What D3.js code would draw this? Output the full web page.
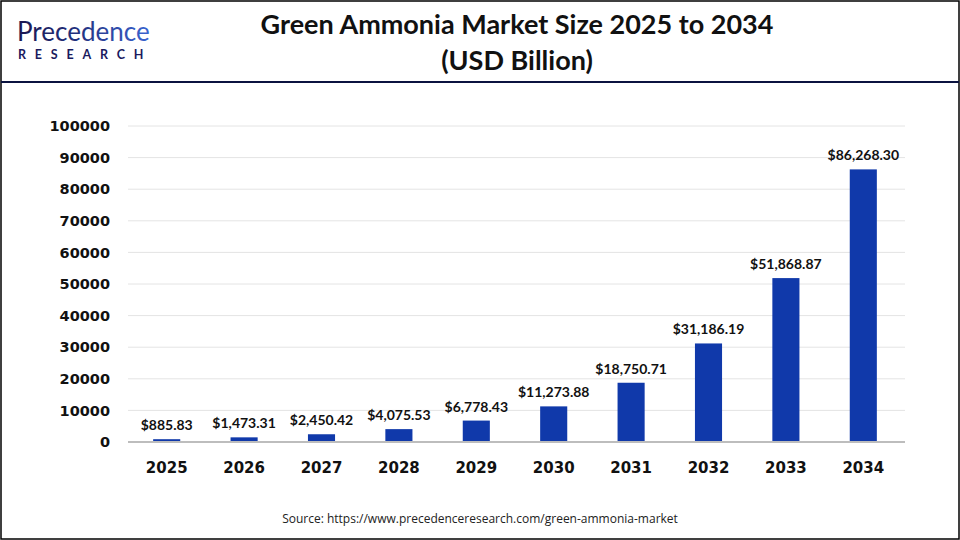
<!DOCTYPE html>
<html>
<head>
<meta charset="utf-8">
<script src="https://cdn.jsdelivr.net/npm/d3@7"></script>
<style>
  body { margin: 0; background: #fff; }
  svg { display: block; }
</style>
</head>
<body>
<svg id="chart" width="960" height="540"></svg>
<script>
// chart data
const years = ["2025", "2026", "2027", "2028", "2029", "2030", "2031", "2032", "2033", "2034"];
const values = [885.83, 1473.31, 2450.42, 4075.53, 6778.43, 11273.88, 18750.71, 31186.19, 51868.87, 86268.30];
const yTicks = [0, 10000, 20000, 30000, 40000, 50000, 60000, 70000, 80000, 90000, 100000];

const W = 960, H = 540;
const margin = { top: 126, right: 58, bottom: 98, left: 128 };
const svg = d3.select("#chart");

// frame
svg.append("rect")
  .attr("x", 1).attr("y", 1).attr("width", W - 2).attr("height", H - 2)
  .attr("fill", "none").attr("stroke", "#000").attr("stroke-width", 1.5);

svg.append("line")
  .attr("x1", 1).attr("x2", W - 1).attr("y1", 82).attr("y2", 82)
  .attr("stroke", "#0b1340").attr("stroke-width", 2);

// title
const title = svg.append("g")
  .attr("font-family", "Lato, 'Noto Sans', sans-serif")
  .attr("font-weight", "bold")
  .attr("fill", "#111")
  .attr("text-anchor", "middle");
title.append("text").attr("x", 517).attr("y", 34).attr("font-size", 27)
  .text("Green Ammonia Market Size 2025 to 2034");
title.append("text").attr("x", 517).attr("y", 70).attr("font-size", 27)
  .text("(USD Billion)");

// logo
const defs = svg.append("defs");
const grad = defs.append("linearGradient").attr("id", "logoGrad")
  .attr("x1", "0%").attr("x2", "100%");
grad.append("stop").attr("offset", "0%").attr("stop-color", "#1a1650");
grad.append("stop").attr("offset", "45%").attr("stop-color", "#22307e");
grad.append("stop").attr("offset", "100%").attr("stop-color", "#3a63d0");

const logo = svg.append("g").attr("font-family", "Lato, sans-serif");
logo.append("text").attr("x", 17).attr("y", 41)
  .attr("font-size", 26).attr("fill", "url(#logoGrad)")
  .attr("letter-spacing", 0)
  .text("Precedence");
logo.append("text").attr("x", 18).attr("y", 59)
  .attr("font-size", 12.5).attr("fill", "#1a1a5e").attr("font-weight", "bold")
  .attr("letter-spacing", 8.8)
  .text("RESEARCH");

// scales
const x = d3.scaleBand()
  .domain(years)
  .range([margin.left, W - margin.right])
  .paddingInner(0.65)
  .paddingOuter(0.325);

const y = d3.scaleLinear()
  .domain([0, 100000])
  .range([H - margin.bottom, margin.top]);

// gridlines
svg.append("g")
  .selectAll("line")
  .data(yTicks.slice(1))
  .join("line")
  .attr("x1", margin.left).attr("x2", W - margin.right + 3)
  .attr("y1", d => y(d)).attr("y2", d => y(d))
  .attr("stroke", "#e4e4e4").attr("stroke-width", 1);

// y axis
const yAxis = svg.append("g")
  .attr("transform", `translate(${margin.left - 18},0)`)
  .call(d3.axisLeft(y).tickValues(yTicks).tickFormat(d3.format("d")).tickSize(0).tickPadding(0));
yAxis.select(".domain").remove();
yAxis.selectAll("text")
  .attr("font-family", "'DejaVu Sans', Verdana, sans-serif")
  .attr("font-weight", "bold")
  .attr("font-size", 14.5)
  .attr("fill", "#111");

// bars
svg.append("g")
  .selectAll("rect")
  .data(values)
  .join("rect")
  .attr("x", (d, i) => x(years[i]))
  .attr("y", d => y(d))
  .attr("width", x.bandwidth())
  .attr("height", d => y(0) - y(d))
  .attr("fill", "#1039aa");

// baseline
svg.append("line")
  .attr("x1", margin.left).attr("x2", W - margin.right + 3)
  .attr("y1", y(0)).attr("y2", y(0))
  .attr("stroke", "#bdbdbd").attr("stroke-width", 2);

// x axis
const xAxis = svg.append("g")
  .attr("transform", `translate(0,${y(0)})`)
  .call(d3.axisBottom(x).tickSize(0).tickPadding(20));
xAxis.select(".domain").remove();
xAxis.selectAll("text")
  .attr("font-family", "'DejaVu Sans', Verdana, sans-serif")
  .attr("font-weight", "bold")
  .attr("font-size", 15)
  .attr("fill", "#111");

// value labels
const fmt = d3.format(",.2f");
svg.append("g")
  .selectAll("text")
  .data(values)
  .join("text")
  .attr("x", (d, i) => x(years[i]) + x.bandwidth() / 2)
  .attr("y", d => y(d) - 9)
  .attr("text-anchor", "middle")
  .attr("font-family", "Lato, sans-serif")
  .attr("font-weight", "bold")
  .attr("font-size", 14)
  .attr("fill", "#111")
  .text(d => "$" + fmt(d));

// source
svg.append("text")
  .attr("x", 480).attr("y", 523)
  .attr("text-anchor", "middle")
  .attr("font-family", "'Open Sans', sans-serif")
  .attr("font-size", 12)
  .attr("fill", "#222")
  .text("Source: https://www.precedenceresearch.com/green-ammonia-market");
</script>
</body>
</html>
